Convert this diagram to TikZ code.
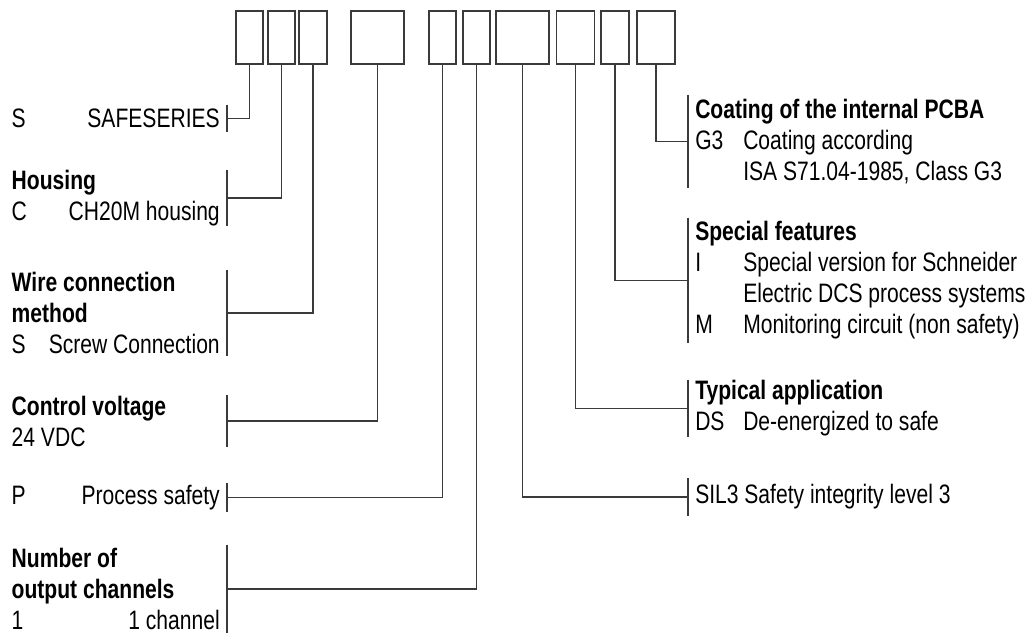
\documentclass[tikz,border=0pt]{standalone}
\usepackage{fontspec}
\setmainfont{Liberation Sans}[FakeStretch=0.79]
\usetikzlibrary{positioning}
\definecolor{linegray}{HTML}{3A3A3A}
\tikzset{
    slot/.style={%
        draw=linegray, line width=1pt,
        minimum width=#1,
        minimum height=39.75pt,
        inner sep=0pt
        },
    slot/.default=20.25pt,
    note/.style={%
        align=flush left, inner xsep=5.25pt, inner ysep=0pt,
        minimum height=#1,
        font=\fontsize{20pt}{23.25pt}\selectfont
        },
    link/.style={draw=linegray, line width=1pt}
}
\newcommand{\keycol}[1]{\makebox[36pt][l]{#1}}

\begin{document}
\begin{tikzpicture}[x=0.75pt, y=-0.75pt]

\useasboundingbox (0,0) rectangle (1032,636);

\node[slot] (P1) at (249.5,37.5) {};
\node[slot] (P2) at (281.5,37.5) {};
\node[slot=21pt] (P3) at (313,37.5) {};
\node[slot=39.75pt] (P4) at (377.5,37.5) {};
\node[slot] (P5) at (442.5,37.5) {};
\node[slot] (P6) at (476.5,37.5) {};
\node[slot=39.75pt] (P7) at (522.5,37.5) {};
\node[slot=28.5pt] (P8) at (575.5,37.5) {};
\node[slot=21pt] (P9) at (615,37.5) {};
\node[slot=28.5pt] (P10) at (656,37.5) {};

\node[note=20.25pt, anchor=east, text width=156pt] (Series) at (227,118.5) {S\hfill SAFESERIES};

\node[note=42pt, anchor=east, text width=156pt] (Housing) at (227,198) {\textbf{Housing}\\C\hfill CH20M housing};

\node[note=64.5pt, anchor=east, text width=156pt] (Wire) at (227,313) {\textbf{Wire connection}\\\textbf{method}\\S\hfill Screw Connection};

\node[note=39pt, anchor=east, text width=156pt] (Voltage) at (227,421) {\textbf{Control voltage}\\24 VDC};

\node[note=21.75pt, anchor=east, text width=156pt] (Process) at (227,497.5) {P\hfill Process safety};

\node[note=66pt, anchor=east, text width=156pt] (Channels) at (227,589) {\textbf{Number of}\\\textbf{output channels}\\1\hfill 1 channel};

\node[note=69.75pt, anchor=west] (Coating) at (688,141.5) {\textbf{Coating of the internal PCBA}\\\keycol{G3}Coating according\\\keycol{}ISA S71.04-1985, Class G3};

\node[note=93.75pt, anchor=west] (Features) at (688,280.5) {\textbf{Special features}\\\keycol{I}Special version for Schneider\\\keycol{}Electric DCS process systems\\\keycol{M}Monitoring circuit (non safety)};

\node[note=42.75pt, anchor=west] (Application) at (688,408.5) {\textbf{Typical application}\\\keycol{DS}De-energized to safe};

\node[note=27.75pt, anchor=west] (SIL) at (688,497) {SIL3 Safety integrity level 3};

\draw[link] (Series.north east) -- (Series.south east);
\draw[link] (Housing.north east) -- (Housing.south east);
\draw[link] (Wire.north east) -- (Wire.south east);
\draw[link] (Voltage.north east) -- (Voltage.south east);
\draw[link] (Process.north east) -- (Process.south east);
\draw[link] (Channels.north east) -- (Channels.south east);
\draw[link] (Coating.north west) -- (Coating.south west);
\draw[link] (Features.north west) -- (Features.south west);
\draw[link] (Application.north west) -- (Application.south west);
\draw[link] (SIL.north west) -- (SIL.south west);

\draw[link] (P1.south) |- (Series.east);
\draw[link] (P2.south) |- (Housing.east);
\draw[link] (P3.south) |- (Wire.east);
\draw[link] (P4.south) |- (Voltage.east);
\draw[link] (P5.south) |- (Process.east);
\draw[link] (P6.south) |- (Channels.east);
\draw[link] (P7.south) |- (SIL.west);
\draw[link] (P8.south) |- (Application.west);
\draw[link] (P9.south) |- (Features.west);
\draw[link] (P10.south) |- (Coating.west);

\end{tikzpicture}
\end{document}
